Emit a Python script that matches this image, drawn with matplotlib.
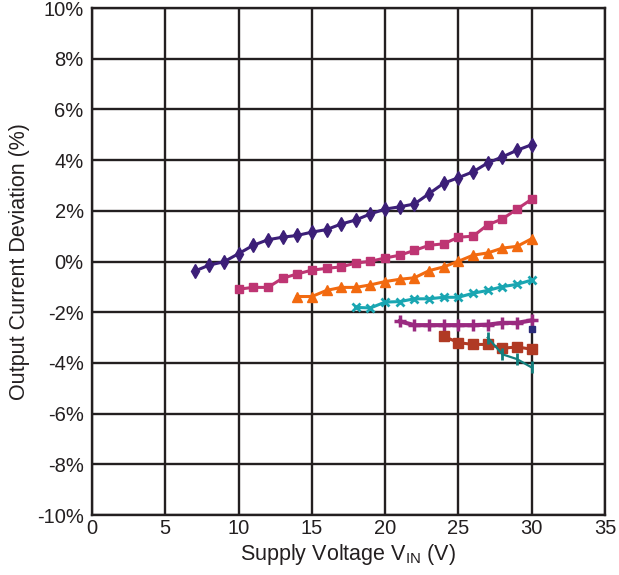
import matplotlib
matplotlib.use("Agg")
import matplotlib.pyplot as plt
from matplotlib.ticker import FuncFormatter

plt.rcParams['font.family'] = ['Liberation Sans', 'DejaVu Sans']
plt.rcParams['mathtext.fontset'] = 'custom'
plt.rcParams['mathtext.rm'] = 'Liberation Sans'
plt.rcParams['mathtext.it'] = 'Liberation Sans:italic'

# Output current deviation (%) versus supply voltage (V), one curve per load setting
v1 = list(range(7, 31))
d1 = [-0.38, -0.14, -0.01, 0.31, 0.64, 0.86, 0.96, 1.03, 1.16, 1.26, 1.48, 1.64,
      1.88, 2.07, 2.16, 2.27, 2.68, 3.09, 3.31, 3.54, 3.89, 4.13, 4.39, 4.61]

v2 = list(range(10, 31))
d2 = [-1.09, -1.02, -1.02, -0.66, -0.49, -0.34, -0.27, -0.21, -0.06, 0.01, 0.14,
      0.25, 0.44, 0.64, 0.70, 0.96, 1.00, 1.45, 1.68, 2.07, 2.46]

v3 = list(range(14, 31))
d3 = [-1.38, -1.38, -1.14, -1.02, -1.02, -0.92, -0.79, -0.70, -0.64, -0.36, -0.21,
      0.01, 0.25, 0.34, 0.53, 0.60, 0.90]

v4 = list(range(18, 31))
d4 = [-1.81, -1.83, -1.60, -1.58, -1.47, -1.47, -1.41, -1.41, -1.25, -1.14, -0.99,
      -0.90, -0.73]

v5 = list(range(21, 31))
d5 = [-2.36, -2.51, -2.51, -2.51, -2.51, -2.51, -2.49, -2.42, -2.42, -2.32]

v6 = list(range(24, 31))
d6 = [-2.95, -3.20, -3.27, -3.27, -3.42, -3.37, -3.46]

v7 = [27, 28, 29, 30]
d7 = [-3.00, -3.66, -3.85, -4.18]

v8 = [30]
d8 = [-2.65]

x_ticks = [0, 5, 10, 15, 20, 25, 30, 35]
y_ticks = [-10, -8, -6, -4, -2, 0, 2, 4, 6, 8, 10]

fig = plt.figure(figsize=(6.19, 5.75), dpi=100)
ax = fig.add_axes([0.1486, 0.1043, 0.8288, 0.8817])

ax.set_xlim(0, 35)
ax.set_ylim(-10, 10)
ax.set_xticks(x_ticks)
ax.set_yticks(y_ticks)
ax.yaxis.set_major_formatter(FuncFormatter(lambda v, p: f"{v:.0f}%"))
ax.grid(True, color='#231f20', linewidth=1.7)
ax.set_axisbelow(True)
for s in ax.spines.values():
    s.set_color('#231f20')
    s.set_linewidth(1.7)
ax.tick_params(length=0, labelsize=14.5, colors='#231f20')
ax.tick_params(axis='y', pad=6)
ax.tick_params(axis='x', pad=3)

lw = 2.2
ax.plot(v1, d1, color='#3c1f78', lw=lw, marker='d', ms=7.5, zorder=3)
ax.plot(v2, d2, color='#be3573', lw=lw, marker='s', ms=6, zorder=3)
ax.plot(v3, d3, color='#f26a10', lw=lw, marker='^', ms=6.5, zorder=3)
ax.plot(v4, d4, color='#1aa6b2', lw=lw, marker='x', ms=6, mew=2, zorder=3)
ax.plot(v5, d5, color='#9a2a80', lw=lw + 0.8, marker='+', ms=8, mew=2.5, zorder=3)
ax.plot(v6, d6, color='#b03a24', lw=lw, marker='s', ms=6.5, zorder=3)
ax.plot(v7, d7, color='#12807f', lw=1.6, marker='|', ms=9, mew=2, zorder=3)
ax.plot(v8, d8, color='#2a2a7a', lw=0, marker='s', ms=4, zorder=3)

ax.set_xlabel(r"Supply Voltage V$_{\mathrm{IN}}$ (V)", fontsize=15.5, color='#231f20', labelpad=3)
ax.set_ylabel("Output Current Deviation (%)", fontsize=15.5, color='#231f20', labelpad=5)

fig.savefig("out.png", dpi=100)
